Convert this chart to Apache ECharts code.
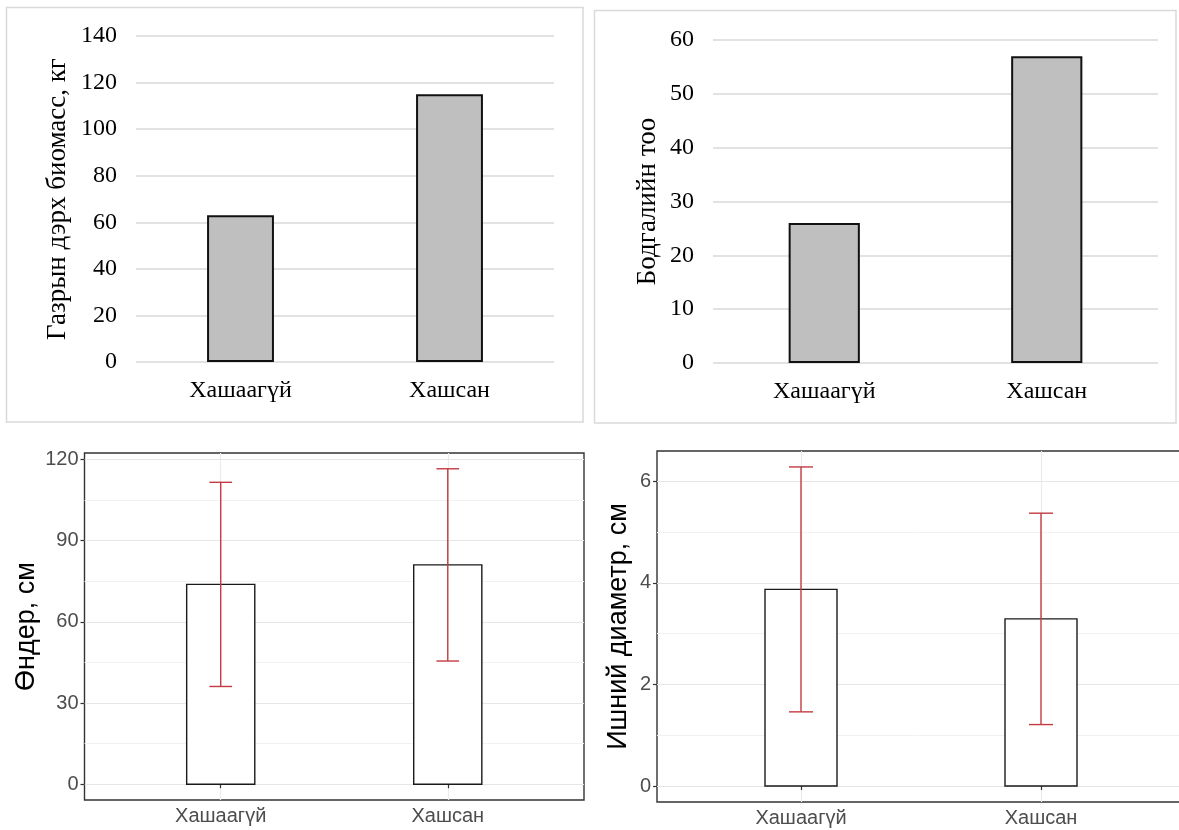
<!DOCTYPE html>
<html>
<head>
<meta charset="utf-8">
<script src="https://cdn.jsdelivr.net/npm/echarts@6/dist/echarts.min.js"></script>
<style>
html,body{margin:0;padding:0;background:#fff;}
#chart{width:1179px;height:830px;}
</style>
</head>
<body>
<div id="chart"></div>
<script>
// ---- data ----
const categories = ['Хашаагүй', 'Хашсан'];
// top-left: above-ground biomass, kg
const biomass = [63, 115];
const biomassTitle = 'Газрын дэрх биомасс, кг';
const biomassMax = 140, biomassStep = 20;
// top-right: number of individuals
const counts = [26, 57];
const countsTitle = 'Бодгалийн тоо';
const countsMax = 60, countsStep = 10;
// bottom-left: height, cm (mean ± sd)
const heightMean = [73.8, 81.0];
const heightSd = [37.7, 35.5];
const heightTitle = 'Өндер, см';
const heightTicks = [0, 30, 60, 90, 120];
const heightMinor = [15, 45, 75, 105];
// bottom-right: stem diameter, cm (mean ± sd)
const diamMean = [3.87, 3.29];
const diamSd = [2.41, 2.08];
const diamTitle = 'Ишний диаметр, см';
const diamTicks = [0, 2, 4, 6];
const diamMinor = [1, 3, 5];

// ---- helpers ----
const SERIF = 'Liberation Serif';
const SANS = 'Liberation Sans';

function expandRange(mean, sd) {
  const hi = Math.max.apply(null, mean.map((m, i) => m + sd[i]));
  const span = hi - 0;
  return [0 - span * 0.05, hi + span * 0.05];
}
const hRange = expandRange(heightMean, heightSd);
const dRange = expandRange(diamMean, diamSd);

function barRender(params, api) {
  const x = api.value(0), y = api.value(1);
  const p1 = api.coord([x - 0.15, y]);
  const p2 = api.coord([x + 0.15, 0]);
  return {
    type: 'rect',
    shape: {x: p1[0], y: p1[1], width: p2[0] - p1[0], height: p2[1] - p1[1]},
    style: {fill: '#ffffff', stroke: '#1a1a1a', lineWidth: 1.4}
  };
}
function errRender(params, api) {
  const x = api.value(0), lo = api.value(1), hi = api.value(2);
  const top = api.coord([x, hi]), bot = api.coord([x, lo]);
  const cl = api.coord([x - 0.05, hi]), cr = api.coord([x + 0.05, hi]);
  const bl = api.coord([x - 0.05, lo]), br = api.coord([x + 0.05, lo]);
  const st = {stroke: '#c23b42', lineWidth: 1.4};
  return {
    type: 'group',
    children: [
      {type: 'line', shape: {x1: top[0], y1: top[1], x2: bot[0], y2: bot[1]}, style: st},
      {type: 'line', shape: {x1: cl[0], y1: cl[1], x2: cr[0], y2: cr[1]}, style: st},
      {type: 'line', shape: {x1: bl[0], y1: bl[1], x2: br[0], y2: br[1]}, style: st}
    ]
  };
}

function topX(gi) {
  return {
    type: 'category', gridIndex: gi, data: categories,
    axisLine: {show: false}, axisTick: {show: false},
    axisLabel: {fontFamily: SERIF, fontSize: 24, color: '#000', margin: 17}
  };
}
function topY(gi, max, step, title, gap) {
  return {
    type: 'value', gridIndex: gi, min: 0, max: max, interval: step,
    axisLine: {show: false}, axisTick: {show: false},
    splitLine: {lineStyle: {color: '#d9d9d9', width: 1.6}},
    axisLabel: {fontFamily: SERIF, fontSize: 24, color: '#000', margin: 19},
    name: title, nameLocation: 'middle', nameGap: gap, nameRotate: 90,
    nameTextStyle: {fontFamily: SERIF, fontSize: 27, color: '#000'}
  };
}
function botX(gi) {
  return {
    type: 'value', gridIndex: gi, min: 0.4, max: 2.6,
    axisLine: {show: false},
    axisTick: {show: true, length: 4, customValues: [1, 2], lineStyle: {color: '#333', width: 1.2}},
    axisLabel: {customValues: [1, 2], formatter: v => categories[Math.round(v) - 1],
      fontFamily: SANS, fontSize: 20, color: '#4d4d4d', margin: 6},
    splitLine: {show: true, lineStyle: {color: '#ebebeb', width: 1.2}}
  };
}
function botY(gi, range, ticks, title, gap) {
  return {
    type: 'value', gridIndex: gi, min: range[0], max: range[1],
    axisLine: {show: false},
    axisTick: {show: true, length: 4, customValues: ticks, lineStyle: {color: '#333', width: 1.2}},
    axisLabel: {customValues: ticks, fontFamily: SANS, fontSize: 20, color: '#4d4d4d', margin: 6},
    splitLine: {show: true, lineStyle: {color: '#e6e6e6', width: 1.2}},
    name: title, nameLocation: 'middle', nameGap: gap, nameRotate: 90,
    nameTextStyle: {fontFamily: SANS, fontSize: 27, color: '#000'}
  };
}
function botYMinor(gi, range, minor) {
  return {
    type: 'value', gridIndex: gi, min: range[0], max: range[1],
    axisLine: {show: false},
    axisTick: {show: false, customValues: minor},
    axisLabel: {show: false, customValues: minor},
    splitLine: {show: true, lineStyle: {color: '#f2f2f2', width: 1}}
  };
}

const option = {
  backgroundColor: '#fff',
  animation: false,
  graphic: [
    {type: 'rect', shape: {x: 6.5, y: 7.5, width: 576.5, height: 414.5},
      style: {fill: 'none', stroke: '#d9d9d9', lineWidth: 1.5}, z: -1},
    {type: 'rect', shape: {x: 594.5, y: 10.5, width: 581.5, height: 412.5},
      style: {fill: 'none', stroke: '#d9d9d9', lineWidth: 1.5}, z: -1}
  ],
  grid: [
    {left: 136, top: 36, width: 418, height: 326, outerBoundsMode: 'none'},
    {left: 713, top: 40, width: 445, height: 323, outerBoundsMode: 'none'},
    {left: 84.5, top: 453, width: 499.5, height: 347, show: true, borderColor: '#333', borderWidth: 1.4, backgroundColor: 'transparent', outerBoundsMode: 'none'},
    {left: 657, top: 451, width: 528, height: 351, show: true, borderColor: '#333', borderWidth: 1.4, backgroundColor: 'transparent', outerBoundsMode: 'none'}
  ],
  xAxis: [topX(0), topX(1), botX(2), botX(3)],
  yAxis: [
    topY(0, biomassMax, biomassStep, biomassTitle, 65),
    topY(1, countsMax, countsStep, countsTitle, 52),
    botY(2, hRange, heightTicks, heightTitle, 44),
    botY(3, dRange, diamTicks, diamTitle, 25),
    botYMinor(2, hRange, heightMinor),
    botYMinor(3, dRange, diamMinor)
  ],
  series: [
    {type: 'bar', xAxisIndex: 0, yAxisIndex: 0, data: biomass, barWidth: '32%',
      itemStyle: {color: '#bfbfbf', borderColor: '#111', borderWidth: 2}},
    {type: 'bar', xAxisIndex: 1, yAxisIndex: 1, data: counts, barWidth: '32%',
      itemStyle: {color: '#bfbfbf', borderColor: '#111', borderWidth: 2}},
    {type: 'custom', xAxisIndex: 2, yAxisIndex: 2, renderItem: barRender, z: 3,
      data: heightMean.map((m, i) => [i + 1, m])},
    {type: 'custom', xAxisIndex: 2, yAxisIndex: 2, renderItem: errRender, z: 4,
      data: heightMean.map((m, i) => [i + 1, m - heightSd[i], m + heightSd[i]])},
    {type: 'custom', xAxisIndex: 3, yAxisIndex: 3, renderItem: barRender, z: 3,
      data: diamMean.map((m, i) => [i + 1, m])},
    {type: 'custom', xAxisIndex: 3, yAxisIndex: 3, renderItem: errRender, z: 4,
      data: diamMean.map((m, i) => [i + 1, m - diamSd[i], m + diamSd[i]])}
  ]
};
const chart = echarts.init(document.getElementById('chart'), null, {renderer: 'canvas'});
chart.setOption(option);
</script>
</body>
</html>
